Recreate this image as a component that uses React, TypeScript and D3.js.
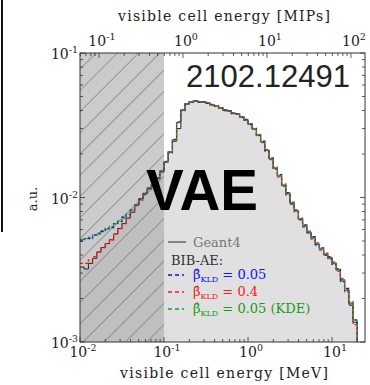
import * as d3 from 'd3';

// histogram: bins uniform in log10(E/MeV), from 10^-2 to 10^1.3
const binLogStart = -2;
const binLogStep = 0.05;

const geant4 = [
  0.0033, 0.0032, 0.0035, 0.0038, 0.0042, 0.0045, 0.0048, 0.0051, 0.0056, 0.0061,
  0.0066, 0.0072, 0.0079, 0.0089, 0.0098, 0.0107, 0.0115, 0.0122, 0.0137, 0.0150,
  0.0176, 0.0206, 0.0245, 0.0300, 0.0403, 0.0444, 0.0458, 0.0466, 0.0460, 0.0458,
  0.0451, 0.0437, 0.0430, 0.0416, 0.0403, 0.0397, 0.0384, 0.0378, 0.0361, 0.0344,
  0.0323, 0.0298, 0.0271, 0.0242, 0.0213, 0.0185, 0.0160, 0.0141, 0.0122, 0.0106,
  0.00916, 0.00807, 0.00710, 0.00635, 0.00577, 0.00525, 0.00477, 0.00440, 0.00406, 0.00381,
  0.00352, 0.00315, 0.00269, 0.00228, 0.00186, 0.00137,
];

const bibaeKld005 = [
  0.0050, 0.0052, 0.0052, 0.0055, 0.0056, 0.0058, 0.0061, 0.0062, 0.0066, 0.0068,
  0.0073, 0.0076, 0.0082, 0.0088, 0.0097, 0.0105, 0.0116, 0.0124, 0.0135, 0.0153,
  0.0178, 0.0204, 0.0252, 0.0330, 0.0400, 0.0447, 0.0455, 0.0468, 0.0456, 0.0460,
  0.0449, 0.0440, 0.0428, 0.0418, 0.0400, 0.0399, 0.0381, 0.0380, 0.0358, 0.0347,
  0.0320, 0.0301, 0.0268, 0.0245, 0.0210, 0.0188, 0.0157, 0.0144, 0.0120, 0.0108,
  0.00900, 0.00820, 0.00700, 0.00645, 0.00570, 0.00535, 0.00470, 0.00448, 0.00400, 0.00390,
  0.00345, 0.00322, 0.00262, 0.00235, 0.00180, 0.00142,
];

const bibaeKld04 = [
  0.0035, 0.0035, 0.0037, 0.0039, 0.0042, 0.0045, 0.0048, 0.0051, 0.0056, 0.0061,
  0.0066, 0.0073, 0.0080, 0.0089, 0.0098, 0.0107, 0.0114, 0.0123, 0.0136, 0.0153,
  0.0175, 0.0208, 0.0250, 0.0335, 0.0405, 0.0442, 0.0460, 0.0464, 0.0459, 0.0456,
  0.0453, 0.0435, 0.0432, 0.0414, 0.0405, 0.0395, 0.0386, 0.0376, 0.0363, 0.0342,
  0.0325, 0.0296, 0.0273, 0.0240, 0.0215, 0.0183, 0.0162, 0.0139, 0.0124, 0.0104,
  0.00930, 0.00795, 0.00720, 0.00625, 0.00585, 0.00515, 0.00485, 0.00432, 0.00412, 0.00374,
  0.00358, 0.00308, 0.00275, 0.00222, 0.00190, 0.00132,
];

const bibaeKld005Kde = [
  0.0051, 0.0052, 0.0053, 0.0055, 0.0057, 0.0059, 0.0060, 0.0063, 0.0066, 0.0069,
  0.0072, 0.0077, 0.0082, 0.0089, 0.0096, 0.0106, 0.0117, 0.0123, 0.0137, 0.0151,
  0.0177, 0.0207, 0.0248, 0.0332, 0.0401, 0.0445, 0.0457, 0.0467, 0.0457, 0.0459,
  0.0450, 0.0438, 0.0429, 0.0417, 0.0401, 0.0398, 0.0382, 0.0379, 0.0360, 0.0345,
  0.0322, 0.0299, 0.0270, 0.0243, 0.0212, 0.0186, 0.0159, 0.0142, 0.0121, 0.0107,
  0.00910, 0.00812, 0.00705, 0.00640, 0.00572, 0.00530, 0.00474, 0.00444, 0.00403, 0.00385,
  0.00349, 0.00318, 0.00265, 0.00230, 0.00183, 0.00140,
];

const mevPerMip = 0.168;
const hatchEdge = 0.1; // MeV
const xTicks = [-2, -1, 0, 1];
const xTopTicks = [-1, 0, 1, 2];
const yTicks = [-1, -2, -3];

const W = 370;
const H = 385;
const left = 80, right = 365, top = 53, bottom = 342;

const serif = "'DejaVu Serif', 'Liberation Serif', serif";

function stepPoints(values: number[], x: d3.ScaleLogarithmic<number, number>, y: d3.ScaleLogarithmic<number, number>) {
  const pts: [number, number][] = [];
  values.forEach((v, i) => {
    const e0 = Math.pow(10, binLogStart + binLogStep * i);
    const e1 = Math.pow(10, binLogStart + binLogStep * (i + 1));
    pts.push([x(e0), y(v)], [x(e1), y(v)]);
  });
  const last = pts[pts.length - 1];
  pts.push([last[0], bottom]);
  return pts;
}

function Pow({ x, y, exp, anchor = 'middle', size = 14 }: { x: number; y: number; exp: number; anchor?: string; size?: number }) {
  return (
    <text x={x} y={y} textAnchor={anchor} fontFamily={serif} fontSize={size} fill="#222">
      10<tspan dy={-6} fontSize={size * 0.68}>{exp}</tspan>
    </text>
  );
}

export default function App() {
  const x = d3.scaleLog().domain([0.01, 24.7]).range([left, right]);
  const xTop = d3.scaleLog().domain([0.01 / mevPerMip, 24.7 / mevPerMip]).range([left, right]);
  const y = d3.scaleLog().domain([1e-3, 1e-1]).range([bottom, top]);

  const line = d3.line();
  const g4Pts = stepPoints(geant4, x, y);
  const fillPath = d3.area<[number, number]>()
    .x(d => d[0])
    .y0(bottom)
    .y1(d => d[1])(g4Pts);

  const series = [
    { values: bibaeKld005, color: '#1010f0' },
    { values: bibaeKld04, color: '#f02020' },
    { values: bibaeKld005Kde, color: '#1a9a1a' },
  ];

  const xMinor = x.ticks().filter(t => t >= 0.01 && t <= 24.7);
  const xTopMinor = xTop.ticks().filter(t => xTop(t) >= left && xTop(t) <= right);
  const yMinor = y.ticks();

  const hx = x(hatchEdge);

  const legendY = [279, 296, 313];
  const legendLabels = ['= 0.05', '= 0.4', '= 0.05 (KDE)'];

  return (
    <div style={{ position: 'absolute', left: 0, top: 0 }}>
      <svg width={W} height={H} viewBox={`0 0 ${W} ${H}`}>
        <defs>
          <pattern id="hatch" patternUnits="userSpaceOnUse" width={15} height={15} patternTransform="rotate(45)">
            <line x1={0} y1={0} x2={0} y2={15} stroke="#555" strokeWidth={0.9} />
          </pattern>
        </defs>
        <rect width={W} height={H} fill="#fff" />
        <line x1={2} y1={0} x2={2} y2={232} stroke="#111" strokeWidth={2} />

        {/* Geant4 filled histogram */}
        <path d={fillPath ?? ''} fill="#e0e0e0" />
        {/* excluded region below threshold */}
        <rect x={left} y={top} width={hx - left} height={bottom - top} fill="#a8a8a8" opacity={0.6} />
        <rect x={left} y={top} width={hx - left} height={bottom - top} fill="url(#hatch)" />

        <path d={line(g4Pts) ?? ''} fill="none" stroke="#222" strokeWidth={1} />
        {series.map((s, i) => (
          <path key={i} d={line(stepPoints(s.values, x, y)) ?? ''} fill="none" stroke={s.color}
            strokeWidth={1.3} strokeDasharray="3,2" />
        ))}

        {/* frame */}
        <rect x={left} y={top} width={right - left} height={bottom - top} fill="none" stroke="#333" strokeWidth={1} />

        {/* ticks */}
        {xMinor.map((t, i) => {
          const major = Math.abs(Math.log10(t) - Math.round(Math.log10(t))) < 1e-6;
          const len = major ? 5 : 3;
          return <line key={'b' + i} x1={x(t)} x2={x(t)} y1={bottom} y2={bottom - len} stroke="#333" strokeWidth={0.8} />;
        })}
        {xTopMinor.map((t, i) => {
          const major = Math.abs(Math.log10(t) - Math.round(Math.log10(t))) < 1e-6;
          const len = major ? 5 : 3;
          return <line key={'t' + i} x1={xTop(t)} x2={xTop(t)} y1={top} y2={top + len} stroke="#333" strokeWidth={0.8} />;
        })}
        {yMinor.map((t, i) => {
          const major = Math.abs(Math.log10(t) - Math.round(Math.log10(t))) < 1e-6;
          const len = major ? 5 : 3;
          return (
            <g key={'y' + i}>
              <line x1={left} x2={left + len} y1={y(t)} y2={y(t)} stroke="#333" strokeWidth={0.8} />
              <line x1={right} x2={right - len} y1={y(t)} y2={y(t)} stroke="#333" strokeWidth={0.8} />
            </g>
          );
        })}

        {/* tick labels */}
        {xTicks.map(e => <Pow key={'xl' + e} x={x(Math.pow(10, e)) + 3} y={357} exp={e} />)}
        {xTopTicks.map(e => <Pow key={'xt' + e} x={xTop(Math.pow(10, e)) + 3} y={46} exp={e} />)}
        {yTicks.map(e => <Pow key={'yl' + e} x={left - 2} y={y(Math.pow(10, e)) + 6} exp={e} anchor="end" />)}

        {/* axis titles */}
        <text x={224} y={21} textAnchor="middle" fontFamily={serif} fontSize={14} fill="#222" textLength={212}>
          visible cell energy [MIPs]
        </text>
        <text x={224} y={378} textAnchor="middle" fontFamily={serif} fontSize={14} fill="#222" textLength={208}>
          visible cell energy [MeV]
        </text>
        <text transform="translate(37,199) rotate(-90)" textAnchor="middle" fontFamily={serif} fontSize={13} fill="#222">
          a.u.
        </text>

        {/* annotations */}
        <text x={268} y={87} textAnchor="middle" fontFamily="'Liberation Sans', Arial, sans-serif" fontSize={31} fill="#222">
          2102.12491
        </text>
        <text x={202} y={210} textAnchor="middle" fontFamily="'Liberation Sans', Arial, sans-serif" fontWeight="bold"
          fontSize={58} fill="#000" textLength={112} lengthAdjust="spacingAndGlyphs">
          VAE
        </text>

        {/* legend */}
        <line x1={168} x2={186} y1={242} y2={242} stroke="#444" strokeWidth={1.2} />
        <text x={193} y={247} fontFamily={serif} fontSize={13} fill="#777">Geant4</text>
        <text x={171} y={265} fontFamily={serif} fontSize={13} fill="#333">BIB-AE:</text>
        {series.map((s, i) => (
          <g key={'lg' + i}>
            <line x1={168} x2={184} y1={legendY[i] - 4} y2={legendY[i] - 4} stroke={s.color} strokeWidth={1.5} strokeDasharray="4,3" />
            <text x={193} y={legendY[i]} fontFamily={serif} fontSize={13} fill={s.color}>
              {'β\u0302'}<tspan dy={3} fontSize={8}>KLD</tspan><tspan dy={-3}> {legendLabels[i]}</tspan>
            </text>
          </g>
        ))}
      </svg>
    </div>
  );
}
